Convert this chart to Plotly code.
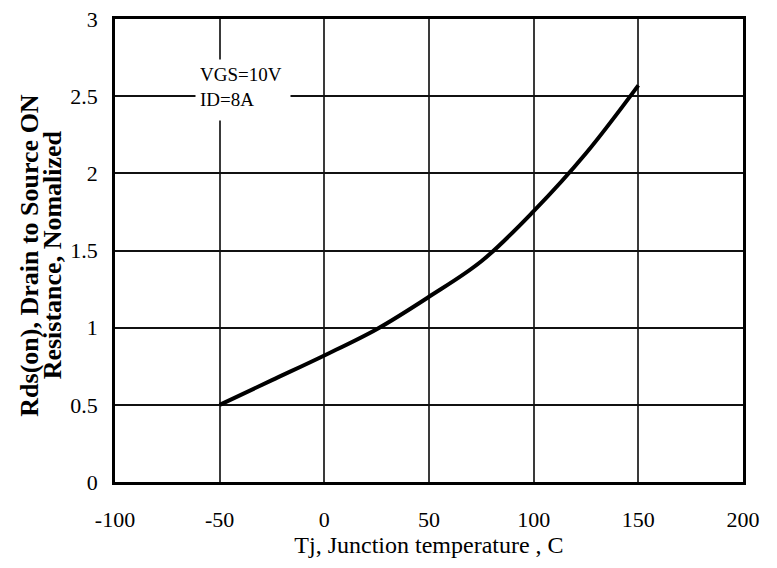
import plotly.graph_objects as go

# junction temperature (C) and normalized Rds(on)
tj = [-50, -25, 0, 25, 50, 75, 100, 125, 150]
rds_norm = [0.50, 0.66, 0.82, 0.99, 1.20, 1.43, 1.755, 2.13, 2.57]

x_ticks = [-100, -50, 0, 50, 100, 150, 200]
x_tick_text = ['-100', '-50', '0', '50', '100', '150', '200']
y_ticks = [0, 0.5, 1, 1.5, 2, 2.5, 3]
y_tick_text = ['0', '0.5', '1', '1.5', '2', '2.5', '3']

y_title_lines = ['Rds(on), Drain to Source ON', 'Resistance, Nomalized']

serif = 'Liberation Serif'

fig = go.Figure()
fig.add_trace(go.Scatter(
    x=tj,
    y=rds_norm,
    mode='lines',
    line=dict(color='black', width=4, shape='spline', smoothing=1),
    showlegend=False
))

fig.add_annotation(
    x=-62, y=2.74, xref='x', yref='y',
    xanchor='left', yanchor='top',
    text='VGS=10V<br>ID=8A',
    showarrow=False, align='left', valign='top',
    width=86, height=52, borderpad=4,
    bgcolor='white',
    font=dict(family=serif, size=19, color='black')
)

# two-line y title, drawn as rotated text so the line spacing stays tight
for i, line in enumerate(y_title_lines):
    fig.add_annotation(
        x=-0.136 + i * 0.036, y=0.49, xref='paper', yref='paper',
        xanchor='center', yanchor='middle',
        text=f'<b>{line}</b>', textangle=-90, showarrow=False,
        font=dict(family=serif, size=26, color='black')
    )

fig.update_layout(
    width=769, height=560,
    margin=dict(l=107, r=34, t=11, b=86),
    paper_bgcolor='white',
    plot_bgcolor='white',
    font=dict(family=serif, size=22, color='black'),
    xaxis=dict(
        range=[-100, 200], automargin=False,
        tickvals=x_ticks, ticktext=x_tick_text,
        showgrid=True, gridcolor='#3a3a3a', gridwidth=2,
        showline=True, linecolor='black', linewidth=2.5, mirror=True,
        zeroline=False, ticks='', ticklabelstandoff=16,
        ticklabeloverflow='allow',
        title=dict(text='Tj, Junction temperature , C', font=dict(family=serif, size=24), standoff=5),
    ),
    yaxis=dict(
        range=[0, 3], automargin=False,
        tickvals=y_ticks, ticktext=y_tick_text,
        showgrid=True, gridcolor='#111111', gridwidth=1.5,
        showline=True, linecolor='black', linewidth=2.5, mirror=True,
        zeroline=False, ticks='', ticklabelstandoff=10,
        ticklabeloverflow='allow',
    ),
)

fig.write_html('out.html')
